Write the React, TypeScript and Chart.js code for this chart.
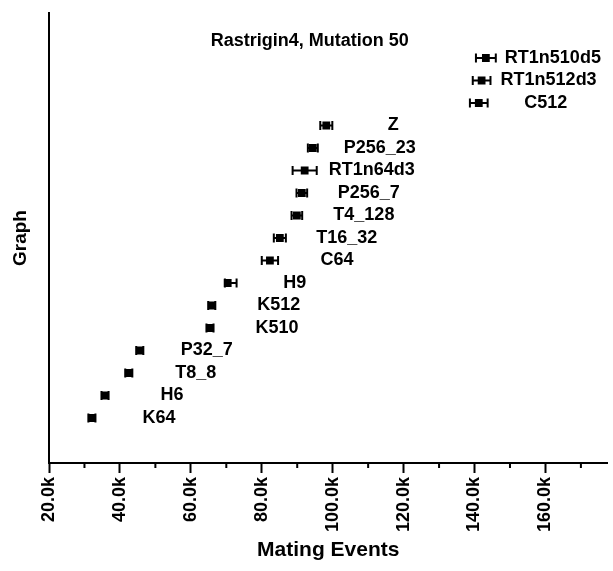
import { useEffect, useRef } from "react";
import { Chart, registerables } from "chart.js";
Chart.register(...registerables);

const title = "Rastrigin4, Mutation 50";
const xTitle = "Mating Events";
const yTitle = "Graph";
const categories = ["RT1n510d5", "RT1n512d3", "C512", "Z", "P256_23", "RT1n64d3", "P256_7", "T4_128", "T16_32", "C64", "H9", "K512", "K510", "P32_7", "T8_8", "H6", "K64"];
// mean mating events, thousands
const means = [143.2, 142.0, 141.2, 98.2, 94.4, 92.1, 91.3, 89.9, 85.1, 82.3, 70.4, 65.9, 65.4, 45.6, 42.5, 35.8, 32.1];
const errLow = [2.8, 2.5, 2.5, 1.7, 1.4, 3.4, 1.5, 1.5, 1.7, 2.3, 0.8, 1.0, 1.0, 1.0, 1.0, 1.0, 1.0];
const errHigh = [2.8, 2.5, 2.5, 1.7, 1.4, 3.4, 1.5, 1.5, 1.7, 2.3, 2.5, 1.0, 1.0, 1.0, 1.0, 1.0, 1.0];
const majorTicks = [20, 40, 60, 80, 100, 120, 140, 160];
const minorTicks = [30, 50, 70, 90, 110, 130, 150, 170];
const xMin = 20;
const xMax = 177.5;

const FONT = "'Liberation Sans', Arial, sans-serif";

export default function App() {
  const ref = useRef<HTMLCanvasElement | null>(null);
  useEffect(() => {
    if (!ref.current) return;
    const n = categories.length;
    const points = means.map((m, i) => ({ x: m, y: n - i + 1 }));

    const errorBars = {
      id: "errorBars",
      beforeDatasetsDraw(chart: any) {
        const ctx = chart.ctx;
        const xs = chart.scales.x;
        const meta = chart.getDatasetMeta(0);
        ctx.save();
        ctx.strokeStyle = "#000";
        ctx.lineWidth = 2;
        meta.data.forEach((el: any, i: number) => {
          const x1 = xs.getPixelForValue(means[i] - errLow[i]);
          const x2 = xs.getPixelForValue(means[i] + errHigh[i]);
          const y = el.y;
          ctx.beginPath();
          ctx.moveTo(x1, y);
          ctx.lineTo(x2, y);
          ctx.moveTo(x1, y - 4.5);
          ctx.lineTo(x1, y + 4.5);
          ctx.moveTo(x2, y - 4.5);
          ctx.lineTo(x2, y + 4.5);
          ctx.stroke();
        });
        ctx.restore();
      },
    };

    const labelsAndExtras = {
      id: "labelsAndExtras",
      afterDraw(chart: any) {
        const ctx = chart.ctx;
        const xs = chart.scales.x;
        const area = chart.chartArea;
        const meta = chart.getDatasetMeta(0);
        ctx.save();
        ctx.fillStyle = "#000";
        ctx.font = `bold 18px ${FONT}`;
        ctx.textAlign = "center";
        ctx.textBaseline = "middle";
        meta.data.forEach((el: any, i: number) => {
          ctx.fillText(categories[i], el.x + 67, el.y);
        });
        ctx.font = `bold 18px ${FONT}`;
        ctx.fillText(title, area.left + (area.right - area.left) * 0.467, area.top + 28);
        ctx.strokeStyle = "#000";
        ctx.lineWidth = 2;
        ctx.beginPath();
        minorTicks.forEach((v) => {
          const px = xs.getPixelForValue(v);
          ctx.moveTo(px, area.bottom);
          ctx.lineTo(px, area.bottom + 5);
        });
        ctx.stroke();
        ctx.restore();
      },
    };

    const chart = new Chart(ref.current, {
      type: "scatter",
      data: {
        datasets: [
          {
            data: points,
            pointStyle: "rect",
            pointRadius: 5.5,
            pointHoverRadius: 5.5,
            backgroundColor: "#000",
            borderColor: "#000",
            borderWidth: 0,
          },
        ],
      },
      options: {
        animation: false,
        responsive: true,
        maintainAspectRatio: false,
        layout: { padding: { top: 13, right: 5, left: 0, bottom: 0 } },
        plugins: {
          legend: { display: false },
          tooltip: { enabled: false },
          title: { display: false },
        },
        scales: {
          x: {
            type: "linear",
            min: xMin,
            max: xMax,
            afterBuildTicks(scale: any) {
              scale.ticks = majorTicks.map((v) => ({ value: v }));
            },
            afterFit(scale: any) {
              scale.height = 108;
            },
            ticks: {
              autoSkip: false,
              minRotation: 90,
              maxRotation: 90,
              padding: 4,
              color: "#000",
              font: { family: FONT, size: 18, weight: "bold" },
              callback: (v: any) => `${Number(v).toFixed(1)}k`,
            },
            grid: {
              display: true,
              drawOnChartArea: false,
              drawTicks: true,
              tickLength: 10,
              tickWidth: 2,
              tickColor: "#000",
            },
            border: { display: true, color: "#000", width: 2 },
            title: {
              display: true,
              text: xTitle,
              color: "#000",
              font: { family: FONT, size: 21, weight: "bold" },
              padding: { top: 0, bottom: 8 },
            },
          },
          y: {
            type: "linear",
            min: 0,
            max: n + 3,
            afterFit(scale: any) {
              scale.width = 49;
            },
            ticks: { display: false },
            grid: { display: false, drawTicks: false },
            border: { display: true, color: "#000", width: 2 },
            title: {
              display: true,
              text: yTitle,
              color: "#000",
              font: { family: FONT, size: 19, weight: "bold" },
              padding: { top: 9, bottom: 0 },
            },
          },
        },
      },
      plugins: [errorBars, labelsAndExtras],
    });
    return () => chart.destroy();
  }, []);

  return (
    <div style={{ position: "absolute", left: 0, top: 0, width: 613, height: 571, background: "#fff" }}>
      <canvas ref={ref} />
    </div>
  );
}
